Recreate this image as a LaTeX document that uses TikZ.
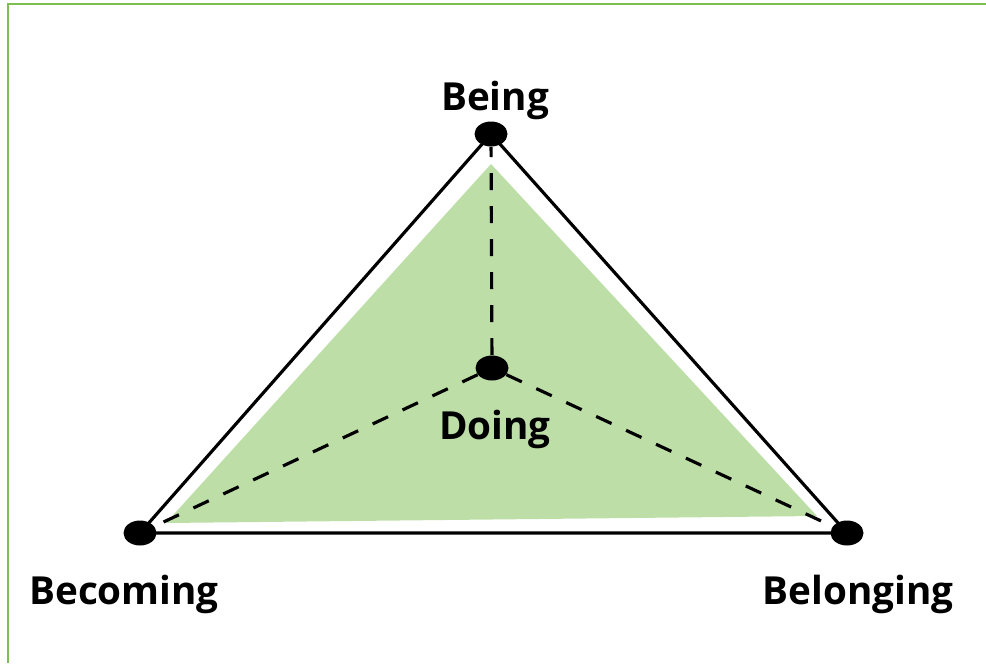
\documentclass[tikz,border=0pt]{standalone}
\usepackage{fontspec}
\setmainfont{Open Sans}
\usetikzlibrary{shapes.geometric,positioning}
\definecolor{framegreen}{RGB}{125,190,80}
\definecolor{fillgreen}{RGB}{190,222,168}

\begin{document}
\begin{tikzpicture}[x=0.02cm,y=-0.02cm]
  \tikzset{
    dot/.style={ellipse, fill=black, inner sep=0pt, minimum width=0.66cm, minimum height=0.5cm},
    lbl/.style={font=\fontsize{22}{26}\selectfont\bfseries, inner sep=0pt},
    edge/.style={line width=1.8pt},
    spoke/.style={line width=1.8pt, dash pattern=on 0.34cm off 0.32cm}
  }
  \useasboundingbox (0,0) rectangle (986,663);
  \draw[line width=1.2pt, framegreen] (8,663) -- (8,4) -- (986,4);

  % green area
  \fill[fillgreen] (491,164) -- (166,523) -- (817,516) -- cycle;

  % points
  \node[dot] (being) at (491,134) {};
  \node[dot] (doing) at (492,368) {};
  \node[dot] (becoming) at (140,533) {};
  \node[dot] (belonging) at (847,533) {};

  \node[lbl] (beinglbl) at (495,100) {Being};
  \node[lbl] (doinglbl) at (495,429) {Doing};
  \node[lbl] (becominglbl) at (124,594) {Becoming};
  \node[lbl] (belonginglbl) at (858,594) {Belonging};

  \draw[edge] (being.center) -- (becoming.center) -- (belonging.center) -- cycle;
  \draw[spoke] (doing) -- (being);
  \draw[spoke] (doing) -- (becoming);
  \draw[spoke] (doing) -- (belonging);
\end{tikzpicture}
\end{document}
